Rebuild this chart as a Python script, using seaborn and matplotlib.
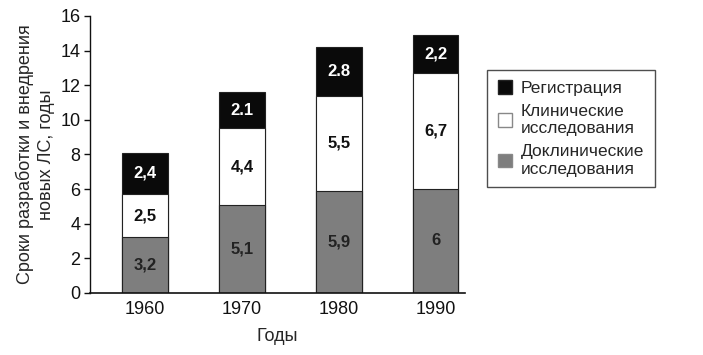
import matplotlib
matplotlib.use("Agg")
import matplotlib.pyplot as plt
import seaborn as sns
import numpy as np
import pandas as pd
from matplotlib.patches import Patch

years = ["1960", "1970", "1980", "1990"]
preclinical = [3.2, 5.1, 5.9, 6.0]
clinical = [2.5, 4.4, 5.5, 6.7]
registration = [2.4, 2.1, 2.8, 2.2]
pre_labels = ["3,2", "5,1", "5,9", "6"]
cli_labels = ["2,5", "4,4", "5,5", "6,7"]
reg_labels = ["2,4", "2.1", "2.8", "2,2"]
series_names = ["Регистрация", "Клинические\nисследования", "Доклинические\nисследования"]

sns.set_style("white")
plt.rcParams['font.family'] = ['Liberation Sans', 'DejaVu Sans']

fig = plt.figure(figsize=(7.03, 3.55), dpi=100)
ax = fig.add_axes([0.128, 0.175, 0.533, 0.78])

pre = np.array(preclinical)
cli = np.array(clinical)
reg = np.array(registration)
df = pd.DataFrame({"year": years, "c1": pre, "c2": pre + cli, "c3": pre + cli + reg})

colors = {"c3": "#0a0a0a", "c2": "#ffffff", "c1": "#7e7e7e"}
for col in ["c3", "c2", "c1"]:
    sns.barplot(data=df, x="year", y=col, color=colors[col], width=0.47,
                edgecolor="#222222", linewidth=0.8, saturation=1, ax=ax)

for i in range(len(years)):
    ax.text(i, pre[i] / 2, pre_labels[i], ha="center", va="center",
            fontsize=12, fontweight="bold", color="#222222")
    ax.text(i, pre[i] + cli[i] / 2, cli_labels[i], ha="center", va="center",
            fontsize=12, fontweight="bold", color="#111111")
    ax.text(i, pre[i] + cli[i] + reg[i] / 2, reg_labels[i], ha="center", va="center",
            fontsize=12, fontweight="bold", color="#ffffff")

ax.set_ylim(0, 16)
ax.set_yticks(range(0, 17, 2))
ax.set_xlim(-0.57, 3.3)
ax.tick_params(axis="both", labelsize=13, colors="#111111")
ax.tick_params(axis="y", direction="out", length=4, width=1, left=True, pad=3)
ax.tick_params(axis="x", length=0, pad=6)
for s in ["top", "right"]:
    ax.spines[s].set_visible(False)
ax.spines["left"].set_color("#111111")
ax.spines["bottom"].set_color("#111111")
ax.spines["left"].set_linewidth(1)
ax.spines["bottom"].set_linewidth(1.2)
ax.set_xlabel("Годы", fontsize=13, labelpad=7)
ax.set_ylabel("Сроки разработки и внедрения\nновых ЛС, годы", fontsize=13, labelpad=4,
              linespacing=1.3)

handles = [Patch(facecolor="#0a0a0a", edgecolor="#222222"),
           Patch(facecolor="#ffffff", edgecolor="#888888"),
           Patch(facecolor="#7e7e7e", edgecolor="#888888")]
leg = fig.legend(handles, series_names, loc="upper left", bbox_to_anchor=(0.693, 0.803),
                 borderaxespad=0, fontsize=12.5, frameon=True, fancybox=False,
                 edgecolor="#222222", handlelength=0.85, handleheight=0.85,
                 handletextpad=0.5, labelspacing=0.45, borderpad=0.6)
leg.get_frame().set_linewidth(1)

fig.savefig("out.png", dpi=100)
